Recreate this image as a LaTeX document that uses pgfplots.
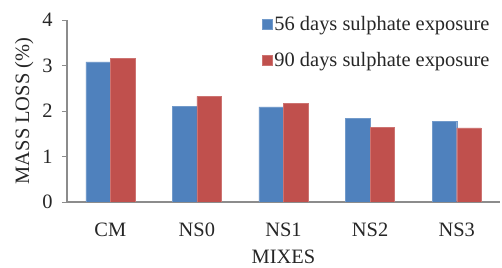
\documentclass[border=0pt]{standalone}
\usepackage{fontspec}
\setmainfont{Liberation Serif}
\usepackage{pgfplots}
\pgfplotsset{compat=1.18}
\definecolor{cblue}{HTML}{4F81BD}
\definecolor{cred}{HTML}{C0504D}
\definecolor{axgray}{HTML}{8C8C8C}
\begin{document}
\begin{tikzpicture}
\begin{axis}[
  scale only axis,
  width=433bp, height=182bp,
  ymin=0, ymax=4, ytick={0,1,2,3,4},
  xmin=-0.5, xmax=4.5,
  xtick={0,1,2,3,4},
  xticklabels={CM,NS0,NS1,NS2,NS3},
  x tick style={draw=none},
  y tick style={axgray, line width=1pt},
  tick align=outside,
  major tick length=5bp,
  axis x line*=bottom, axis y line*=left,
  axis line style={axgray, line width=1.2pt, -},
  /pgf/number format/assume math mode=true,
  tick label style={font=\fontsize{20.5}{22}\selectfont, text=black!85},
  xticklabel style={yshift=-12bp},
  yticklabel style={xshift=-6bp},
  ybar=0pt, bar width=0.283,
  xlabel={MIXES}, ylabel={MASS LOSS (\%)},
  label style={font=\fontsize{20.5}{22}\selectfont, text=black!85},
  xlabel style={yshift=-10bp, inner sep=0pt},
  ylabel style={yshift=2bp},
  legend style={at={(0.45,1.03)}, anchor=north west, draw=none, fill=none,
    font=\fontsize{20.5}{22}\selectfont, text=black!85, row sep=16bp,
    legend cell align=left, inner sep=0pt,
    nodes={inner xsep=2bp}},
  legend image code/.code={\fill[#1] (0bp,-5bp) rectangle (10bp,5bp);},
]
\addplot[fill=cblue, draw=cblue!80!white] coordinates {(0,3.08) (1,2.10) (2,2.09) (3,1.84) (4,1.78)};
\addplot[fill=cred, draw=cred!80!white] coordinates {(0,3.16) (1,2.32) (2,2.17) (3,1.64) (4,1.63)};
\legend{56 days sulphate exposure, 90 days sulphate exposure}
\end{axis}
\pgfresetboundingbox
\path ([shift={(-67bp,-66bp)}]current axis.south west) rectangle ([shift={(2bp,20bp)}]current axis.north east);
\end{tikzpicture}
\end{document}
